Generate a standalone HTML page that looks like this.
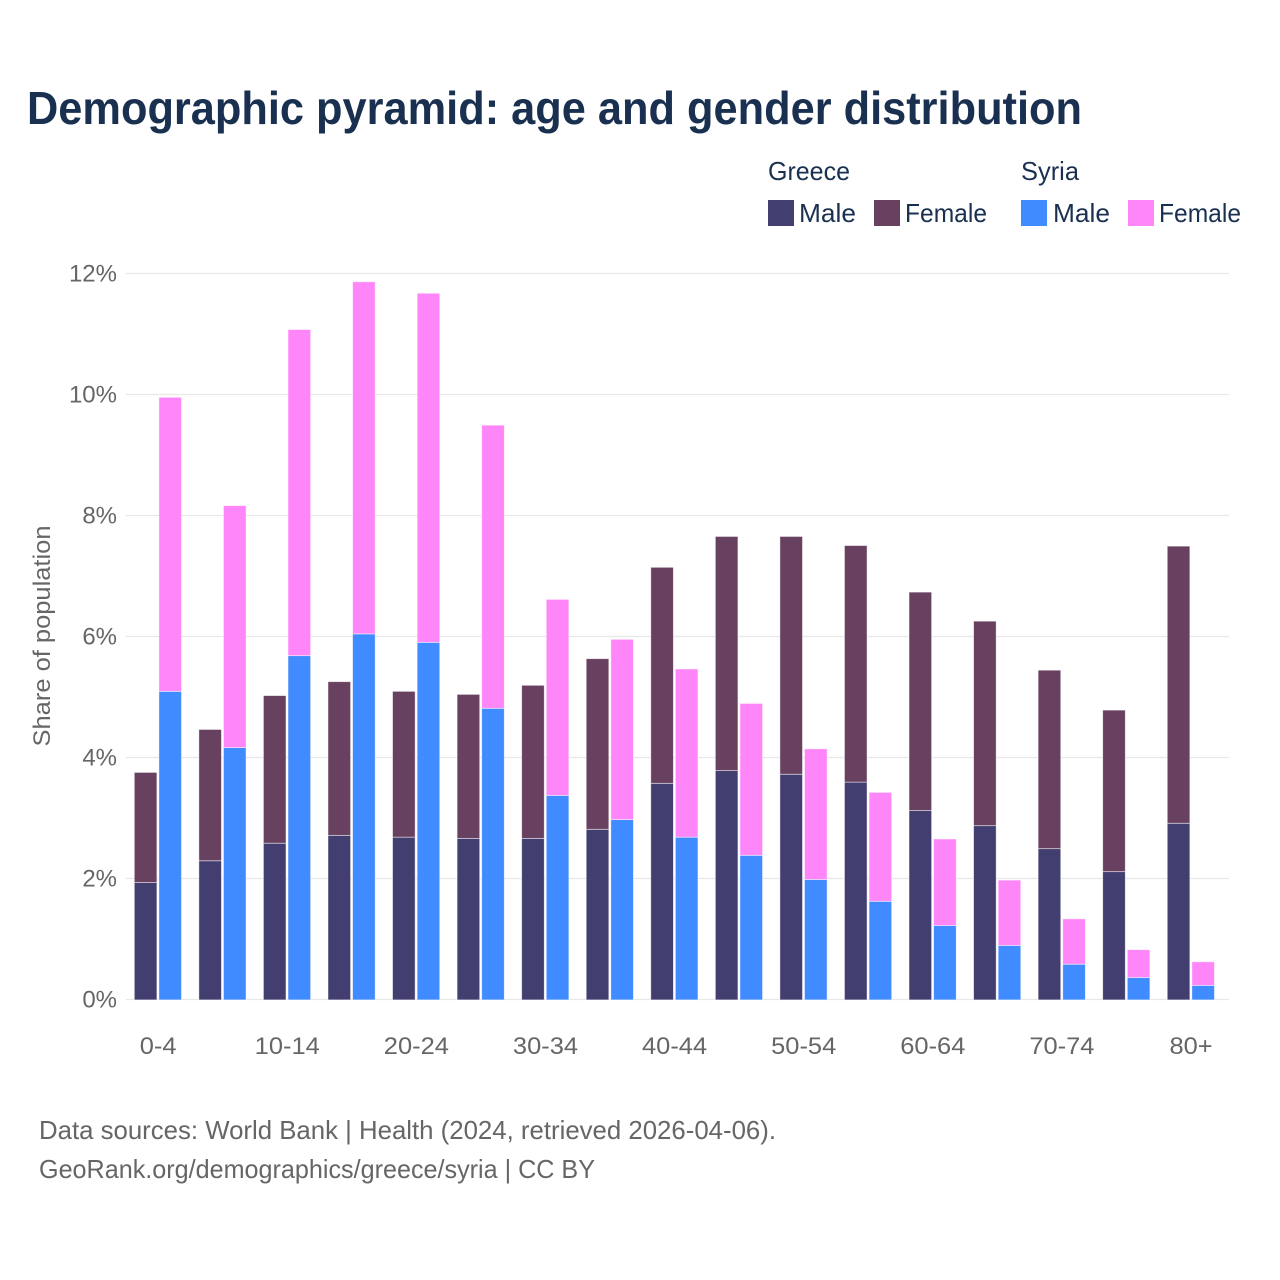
<!DOCTYPE html>
<html lang="en">
<head>
<meta charset="utf-8">
<title>Demographic pyramid: age and gender distribution</title>
<style>
html,body{margin:0;padding:0;background:#fff;}
svg{display:block;font-family:"Liberation Sans",sans-serif;}
</style>
</head>
<body>
<svg id="chart" xmlns="http://www.w3.org/2000/svg" width="1280" height="1280" viewBox="0 0 1280 1280">
  <rect x="0" y="0" width="1280" height="1280" fill="#ffffff"/>
  <text x="27" y="124" font-size="46" font-weight="700" fill="#1a3050" textLength="1055" lengthAdjust="spacingAndGlyphs">Demographic pyramid: age and gender distribution</text>

  <g font-size="26" fill="#1a3050">
    <text x="768" y="180" textLength="82" lengthAdjust="spacingAndGlyphs">Greece</text>
    <text x="1021" y="180" textLength="58" lengthAdjust="spacingAndGlyphs">Syria</text>
    <rect x="768" y="200" width="26" height="26" fill="#433e70"/>
    <text x="799" y="222" textLength="57" lengthAdjust="spacingAndGlyphs">Male</text>
    <rect x="874" y="200" width="26" height="26" fill="#684160"/>
    <text x="905" y="222" textLength="82" lengthAdjust="spacingAndGlyphs">Female</text>
    <rect x="1021" y="200" width="26" height="26" fill="#3f8bff"/>
    <text x="1053" y="222" textLength="57" lengthAdjust="spacingAndGlyphs">Male</text>
    <rect x="1128" y="200" width="26" height="26" fill="#ff86f9"/>
    <text x="1159" y="222" textLength="82" lengthAdjust="spacingAndGlyphs">Female</text>
  </g>

  <g id="grid"></g>
  <g id="y-ticks"></g>
  <g id="bars"></g>
  <g id="x-ticks"></g>

  <text transform="translate(50,636) rotate(-90)" text-anchor="middle" font-size="24" fill="#666666" textLength="221" lengthAdjust="spacingAndGlyphs">Share of population</text>

  <text x="39" y="1139" font-size="26" fill="#666666" textLength="737" lengthAdjust="spacingAndGlyphs">Data sources: World Bank | Health (2024, retrieved 2026-04-06).</text>
  <text x="39" y="1178" font-size="26" fill="#666666" textLength="556" lengthAdjust="spacingAndGlyphs">GeoRank.org/demographics/greece/syria | CC BY</text>
</svg>
<script>
const categories = ["0-4","5-9","10-14","15-19","20-24","25-29","30-34","35-39","40-44","45-49","50-54","55-59","60-64","65-69","70-74","75-79","80+"];
const shownCategories = ["0-4","10-14","20-24","30-34","40-44","50-54","60-64","70-74","80+"];
const yTicks = [0,2,4,6,8,10,12];
const greeceMale = [1.94,2.30,2.59,2.72,2.69,2.67,2.67,2.82,3.58,3.79,3.73,3.60,3.13,2.88,2.50,2.12,2.92];
const greeceFemale = [1.82,2.17,2.44,2.54,2.41,2.38,2.53,2.82,3.57,3.87,3.93,3.91,3.61,3.38,2.95,2.67,4.58];
const syriaMale = [5.10,4.17,5.69,6.05,5.91,4.82,3.38,2.98,2.69,2.39,1.99,1.63,1.23,0.90,0.59,0.37,0.24];
const syriaFemale = [4.86,4.00,5.39,5.82,5.77,4.68,3.24,2.98,2.78,2.51,2.16,1.80,1.43,1.08,0.75,0.46,0.39];

const NS = "http://www.w3.org/2000/svg";
function yScale(v){ return 999.5 - v * 60.5; }
function xScale(i){ return 134.3 + i * 64.56; }
const barWidth = 22.6;
const barGap = 24.6;
const barInset = 0.4;

function makeBar(parent, x, base, value, fill, name){
  const r = document.createElementNS(NS, "rect");
  
  
  r.setAttribute("x", x);
  r.setAttribute("y", yScale(base + value) + barInset);
  r.setAttribute("width", barWidth);
  r.setAttribute("height", yScale(base) - yScale(base + value));
  r.setAttribute("fill", fill);
  r.setAttribute("stroke", "#ffffff");
  r.setAttribute("stroke-opacity", "0.6");
  r.setAttribute("stroke-width", "0.8");
  parent.appendChild(r);
}

const gridG = document.getElementById("grid");
const yG = document.getElementById("y-ticks");
yTicks.forEach(function(t){
  const l = document.createElementNS(NS, "line");
  
  
  l.setAttribute("x1", 126);
  l.setAttribute("x2", 1229);
  l.setAttribute("y1", yScale(t));
  l.setAttribute("y2", yScale(t));
  l.setAttribute("stroke", "#e8e8e8");
  l.setAttribute("stroke-width", "1.2");
  gridG.appendChild(l);
  const s = document.createElementNS(NS, "text");
  
  
  s.setAttribute("x", 117);
  s.setAttribute("y", yScale(t) + 8);
  s.setAttribute("text-anchor", "end");
  s.setAttribute("font-size", "24");
  s.setAttribute("fill", "#666666");
  s.textContent = t + "%";
  yG.appendChild(s);
});

const barsG = document.getElementById("bars");
categories.forEach(function(c, i){
  const x = xScale(i);
  makeBar(barsG, x, 0, greeceMale[i], "#433e70", "bar-greece-male-" + c);
  makeBar(barsG, x, greeceMale[i], greeceFemale[i], "#684160", "bar-greece-female-" + c);
  makeBar(barsG, x + barGap, 0, syriaMale[i], "#3f8bff", "bar-syria-male-" + c);
  makeBar(barsG, x + barGap, syriaMale[i], syriaFemale[i], "#ff86f9", "bar-syria-female-" + c);
});

const xG = document.getElementById("x-ticks");
shownCategories.forEach(function(c){
  const i = categories.indexOf(c);
  const s = document.createElementNS(NS, "text");
  
  
  s.setAttribute("x", xScale(i) + 23.8);
  s.setAttribute("y", 1054);
  s.setAttribute("text-anchor", "middle");
  s.setAttribute("font-size", "24");
  s.setAttribute("fill", "#666666");
  s.textContent = c;
  xG.appendChild(s);
  s.setAttribute("textLength", s.getComputedTextLength() * 1.06);
  s.setAttribute("lengthAdjust", "spacingAndGlyphs");
});
</script>
</body>
</html>
